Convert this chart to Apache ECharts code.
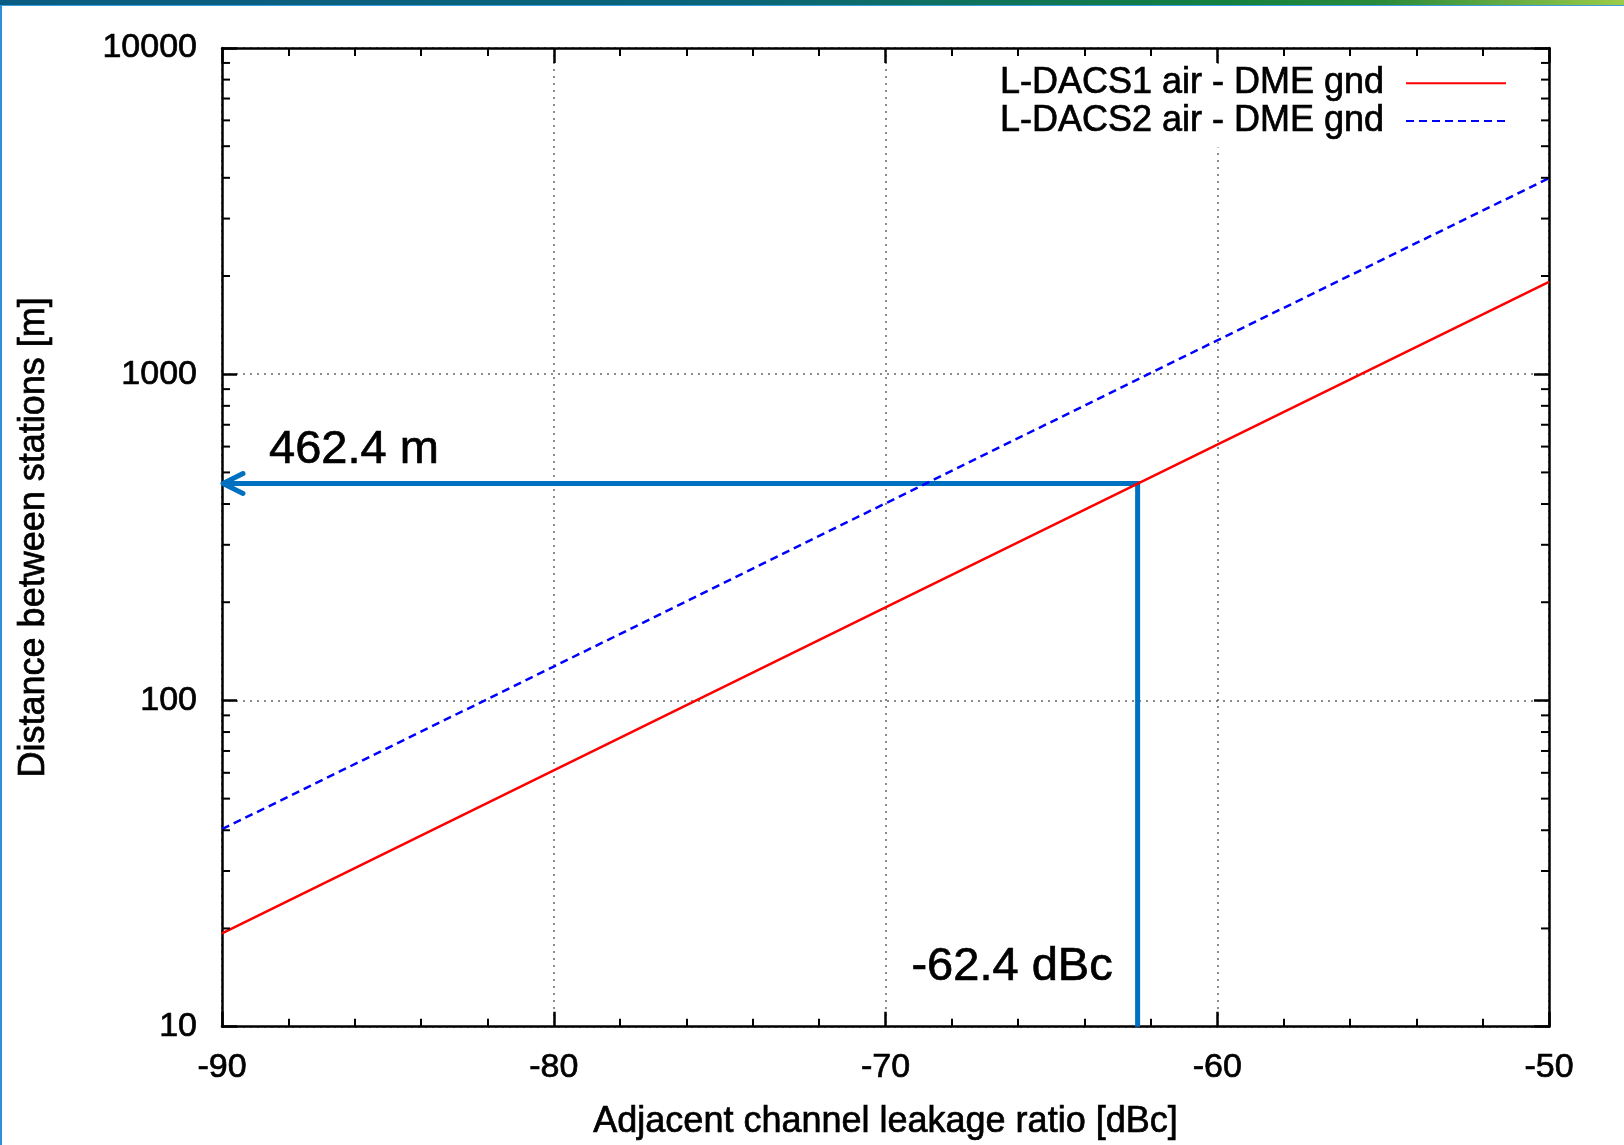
<!DOCTYPE html>
<html>
<head>
<meta charset="utf-8">
<title>Distance between stations vs ACLR</title>
<script src="https://cdn.jsdelivr.net/npm/echarts@6/dist/echarts.min.js"></script>
<style>
    html, body {
        margin: 0;
        padding: 0;
        background: #ffffff;
    }
    #chart {
        width: 1624px;
        height: 1145px;
    }
    .band-top {
        position: absolute;
        left: 0;
        top: 0;
        width: 1624px;
        height: 5px;
        background: linear-gradient(to right, #0a5d82 0%, #0b6478 45%, #13803f 75%, #2a8a3a 85%, #9ccb4a 100%);
        border-bottom: 1px solid #3a9ee0;
    }
    .band-left {
        position: absolute;
        left: 0;
        top: 5px;
        width: 2px;
        height: 1140px;
        background: #2b8fdc;
    }
</style>
</head>
<body>
<div id="chart"></div>
<div class="band-top"></div>
<div class="band-left"></div>
<script>
    // x: adjacent channel leakage ratio [dBc]
    var acpr = [-90, -80, -70, -60, -50];
    // distance between stations [m]
    var ldacs1 = [19.3, 61, 193, 608, 1920];
    var ldacs2 = [40.3, 127, 402, 1270, 3990];

    var X_MIN = -90, X_MAX = -50;
    var Y_MIN = 10, Y_MAX = 10000;

    // log minor ticks (2..9 of each decade)
    var yMinorTicks = [20, 30, 40, 50, 60, 70, 80, 90,
                       200, 300, 400, 500, 600, 700, 800, 900,
                       2000, 3000, 4000, 5000, 6000, 7000, 8000, 9000];

    // operating point marked on the chart
    var markX = -62.4;
    var markY = 462.4;

    var FONT = "'Liberation Sans', Arial, sans-serif";
    // thicken glyphs a little, the original text is heavy
    var HEAVY = { textBorderColor: '#000', textBorderWidth: 0.7 };

    function pairs(xs, ys) {
        return xs.map(function (x, i) { return [x, ys[i]]; });
    }

    var chart = echarts.init(document.getElementById('chart'));

    var xAxisBase = {
        type: 'value',
        min: X_MIN,
        max: X_MAX,
        interval: 10,
        axisLine: { show: true, onZero: false, lineStyle: { color: '#000', width: 2.5 } },
        axisTick: { show: true, inside: true, length: 15, lineStyle: { color: '#000', width: 2.5 } },
        minorTick: { show: true, splitNumber: 5, length: 8, lineStyle: { color: '#000', width: 2 } }
    };

    var yAxisBase = {
        type: 'log',
        logBase: 10,
        min: Y_MIN,
        max: Y_MAX,
        axisLine: { show: true, onZero: false, lineStyle: { color: '#000', width: 2.5 } },
        axisTick: { show: true, inside: true, length: 15, lineStyle: { color: '#000', width: 2.5 } }
    };

    var option = {
        animation: false,
        backgroundColor: '#ffffff',
        textStyle: { fontFamily: FONT },
        grid: { left: 222, right: 75, top: 48, bottom: 114, containLabel: false },
        legend: {
            orient: 'vertical',
            right: 117,
            top: 65,
            align: 'right',
            padding: [0, 0, 8, 0],
            backgroundColor: '#ffffff',
            itemWidth: 100,
            itemHeight: 14,
            itemGap: 1,
            itemStyle: { opacity: 0 },
            data: ['L-DACS1 air - DME gnd', 'L-DACS2 air - DME gnd'],
            textStyle: Object.assign({ fontFamily: FONT, fontSize: 36, color: '#000', lineHeight: 36, padding: [0, 17, 0, 0] }, HEAVY)
        },
        xAxis: [
            Object.assign({}, xAxisBase, {
                position: 'bottom',
                name: 'Adjacent channel leakage ratio [dBc]',
                nameLocation: 'middle',
                nameGap: 77,
                nameTextStyle: Object.assign({ fontFamily: FONT, fontSize: 36, color: '#000' }, HEAVY),
                axisLabel: Object.assign({ fontFamily: FONT, fontSize: 34, color: '#000', margin: 24 }, HEAVY),
                splitLine: { show: true, lineStyle: { color: '#666', width: 1.5, type: [2, 5] } }
            }),
            Object.assign({}, xAxisBase, {
                position: 'top',
                axisLabel: { show: false },
                splitLine: { show: false }
            })
        ],
        yAxis: [
            Object.assign({}, yAxisBase, {
                position: 'left',
                name: 'Distance between stations [m]',
                nameLocation: 'middle',
                nameGap: 170,
                nameTextStyle: Object.assign({ fontFamily: FONT, fontSize: 36, color: '#000' }, HEAVY),
                axisLabel: Object.assign({
                    fontFamily: FONT, fontSize: 34, color: '#000', margin: 25,
                    formatter: function (v) { return String(Math.round(v)); }
                }, HEAVY),
                splitLine: { show: true, lineStyle: { color: '#666', width: 1.5, type: [2, 5] } }
            }),
            Object.assign({}, yAxisBase, {
                position: 'right',
                axisLabel: { show: false },
                splitLine: { show: false }
            })
        ],
        series: [
            {
                name: 'marker',
                type: 'custom',
                z: 1,
                silent: true,
                data: [[markX, markY]],
                renderItem: function (params, api) {
                    var p = api.coord([api.value(0), api.value(1)]);
                    var left = api.coord([X_MIN, api.value(1)]);
                    var foot = api.coord([api.value(0), Y_MIN]);
                    var blue = '#0070c0';
                    return {
                        type: 'group',
                        children: [
                            {
                                type: 'polyline',
                                shape: { points: [foot, p, left] },
                                style: { stroke: blue, lineWidth: 5, fill: 'none', lineJoin: 'miter' }
                            },
                            {
                                type: 'polyline',
                                shape: { points: [[left[0] + 21, left[1] - 10], [left[0] + 1, left[1]], [left[0] + 21, left[1] + 10]] },
                                style: { stroke: blue, lineWidth: 5, fill: 'none', lineCap: 'round', lineJoin: 'round' }
                            },
                            {
                                type: 'text',
                                x: left[0] + 47,
                                y: p[1] - 33,
                                style: {
                                    text: markY + ' m',
                                    fontFamily: FONT, fontSize: 47, fill: '#000',
                                    stroke: '#000', lineWidth: 0.7,
                                    align: 'left', verticalAlign: 'middle'
                                }
                            },
                            {
                                type: 'text',
                                x: p[0] - 25,
                                y: foot[1] - 60,
                                style: {
                                    text: markX + ' dBc',
                                    fontFamily: FONT, fontSize: 47, fill: '#000',
                                    stroke: '#000', lineWidth: 0.7,
                                    align: 'right', verticalAlign: 'middle'
                                }
                            }
                        ]
                    };
                }
            },
            {
                name: 'minorTicks',
                type: 'custom',
                z: 5,
                silent: true,
                data: yMinorTicks.map(function (v) { return [X_MIN, v]; }),
                renderItem: function (params, api) {
                    var l = api.coord([X_MIN, api.value(1)]);
                    var r = api.coord([X_MAX, api.value(1)]);
                    var st = { stroke: '#000', lineWidth: 2 };
                    return {
                        type: 'group',
                        children: [
                            { type: 'line', shape: { x1: l[0], y1: l[1], x2: l[0] + 8, y2: l[1] }, style: st },
                            { type: 'line', shape: { x1: r[0] - 8, y1: r[1], x2: r[0], y2: r[1] }, style: st }
                        ]
                    };
                }
            },
            {
                name: 'L-DACS1 air - DME gnd',
                type: 'line',
                z: 3,
                symbol: 'none',
                data: pairs(acpr, ldacs1),
                lineStyle: { color: '#ff0000', width: 2.5 },
                itemStyle: { color: '#ff0000' }
            },
            {
                name: 'L-DACS2 air - DME gnd',
                type: 'line',
                z: 3,
                symbol: 'none',
                data: pairs(acpr, ldacs2),
                lineStyle: { color: '#0000ff', width: 2.5, type: [8, 5] },
                itemStyle: { color: '#0000ff' }
            }
        ]
    };

    chart.setOption(option);
</script>
</body>
</html>
